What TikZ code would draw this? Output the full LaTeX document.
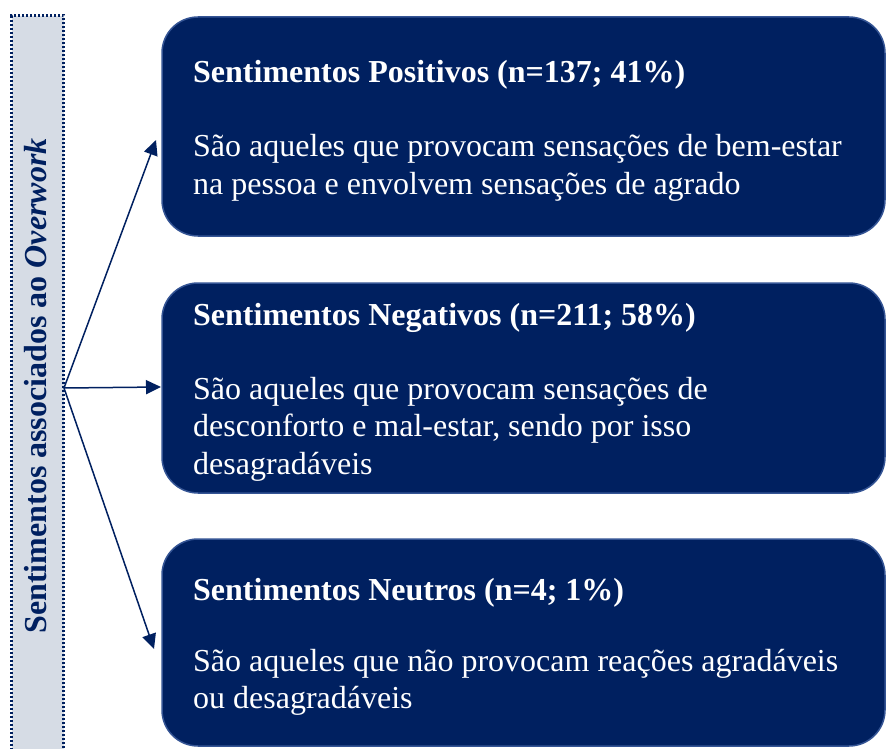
\documentclass[tikz,border=0pt]{standalone}
\usepackage{fontspec}
\setmainfont{Liberation Serif}
\usetikzlibrary{arrows.meta}
\definecolor{navy}{RGB}{0,32,96}
\definecolor{edgeblue}{RGB}{52,84,148}
\definecolor{barfill}{RGB}{214,220,229}
\begin{document}
\begin{tikzpicture}[x=1pt,y=-1pt,
  box/.style={draw=edgeblue, line width=1.5pt, fill=navy, rounded corners=36pt, inner sep=0pt, minimum width=723pt},
  ttl/.style={anchor=base west, text=white, inner sep=0pt, font=\fontsize{32}{37.5}\selectfont\bfseries},
  body/.style={anchor=base west, text=white, inner sep=0pt, align=left, font=\fontsize{32}{37.5}\selectfont},
  bar/.style={draw=navy, line width=3pt, dash pattern=on 2pt off 2pt, fill=barfill, inner sep=0pt, minimum width=52pt, minimum height=744pt},
  conn/.style={navy, line width=1.5pt, -{Triangle[length=15pt,width=14pt]}}
]
\clip (0,0) rectangle (886,749);
\fill[white] (0,0) rectangle (886,749);

% left bar
\node[bar] (bar) at (37.5,388) {};
\node[rotate=90, text=navy, inner sep=0pt, font=\fontsize{32}{37.5}\selectfont\bfseries] (bartxt) at (36,386) {Sentimentos associados ao \textit{Overwork}};

% boxes
\node[box, minimum height=219pt] (b1) at (523.5,126.5) {};
\node[box, minimum height=210pt] (b2) at (523.5,388) {};
\node[box, minimum height=207pt] (b3) at (523.5,642.5) {};

% texts
\node[ttl] (t1) at (193,83) {Sentimentos Positivos (n=137; 41\%)};
\node[body] (d1) at (193,157) {\begin{tabular}[t]{@{}l@{}}São aqueles que provocam sensações de bem-estar\\na pessoa e envolvem sensações de agrado\end{tabular}};

\node[ttl] (t2) at (193,325) {Sentimentos Negativos (n=211; 58\%)};
\node[body] (d2) at (193,399) {\begin{tabular}[t]{@{}l@{}}São aqueles que provocam sensações de\\desconforto e mal-estar, sendo por isso\\desagradáveis\end{tabular}};

\node[ttl] (t3) at (193,600) {Sentimentos Neutros (n=4; 1\%)};
\node[body] (d3) at (193,671) {\begin{tabular}[t]{@{}l@{}}São aqueles que não provocam reações agradáveis\\ou desagradáveis\end{tabular}};

% connectors
\coordinate (o) at (64,388);
\coordinate (e1) at (156,140);
\coordinate (e2) at (161,387);
\coordinate (e3) at (154,649);
\draw[conn] (o) -- (e1);
\draw[conn] (o) -- (e2);
\draw[conn] (o) -- (e3);
\end{tikzpicture}
\end{document}
